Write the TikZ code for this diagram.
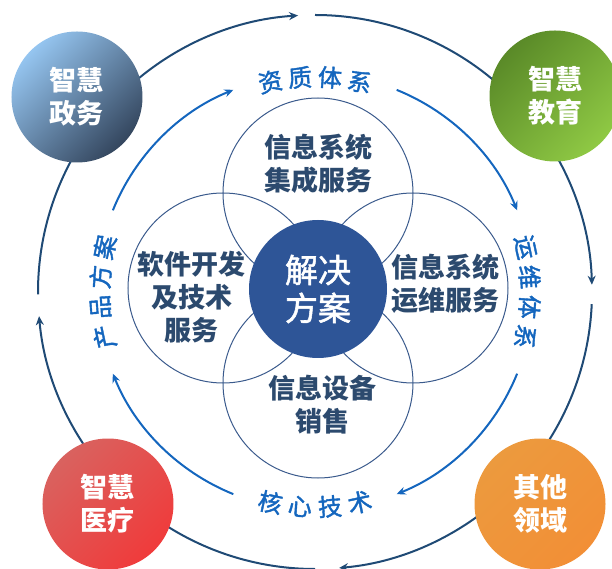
\documentclass[tikz,border=0pt]{standalone}
\usepackage{fontspec}
\setmainfont{Noto Sans CJK SC}
\newfontfamily\cjkmed[FakeBold=1.6]{Noto Sans CJK SC}
\usetikzlibrary{arrows.meta}

\definecolor{outblue}{HTML}{1F4A75}
\definecolor{inblue}{HTML}{1466BE}
\definecolor{petalline}{HTML}{3A5A8C}
\definecolor{petaltext}{HTML}{2C4A6E}
\definecolor{corefill}{HTML}{2E5597}
\definecolor{zwA}{HTML}{95C5F0}
\definecolor{zwB}{HTML}{34465E}
\definecolor{jyA}{HTML}{5A8A28}
\definecolor{jyB}{HTML}{8FC944}
\definecolor{ylA}{HTML}{D9625F}
\definecolor{ylB}{HTML}{F03B3B}
\definecolor{qtA}{HTML}{EC9A3E}
\definecolor{qtB}{HTML}{F28F36}

\tikzset{
  outring/.style={draw=outblue, line width=2pt},
  inring/.style={draw=inblue, line width=2pt},
  ringtxt/.style={text=inblue, font=\fontsize{24}{24}\selectfont\cjkmed, inner sep=0pt},
  petal/.style={circle, draw=petalline, line width=1pt, minimum size=190pt, inner sep=0pt},
  petaltxt/.style={text=petaltext, align=center, font=\fontsize{27}{33}\selectfont\bfseries},
  core/.style={circle, fill=corefill, text=white, minimum size=138pt, inner sep=0pt, align=center, font=\fontsize{33}{38}\selectfont\cjkmed},
  corner/.style={circle, minimum size=131pt, inner sep=0pt, text=white, align=center, font=\fontsize{27}{33}\selectfont\bfseries},
}

\begin{document}
\begin{tikzpicture}[x=1pt, y=1pt]
  \useasboundingbox (-315,-277) rectangle (297,292);

  %outer ring
  \foreach \c/\t/\s in {90/3.5/0, 0/1.5/-2.5, 270/5/0, 180/5/0.5} {
    \coordinate (oa\c) at ({\c+45}:277pt);
    \coordinate (ob\c) at ({\c+\s}:277pt);
    \draw[outring, -{Stealth[length=9pt, width=8pt]}] (oa\c) arc[start angle=\c+45, end angle=\c+\t, radius=277pt];
    \draw[outring] (ob\c) arc[start angle=\c+\s, end angle=\c-45, radius=277pt];
  }

  %inner ring
  \foreach \c in {90, 0, 270, 180} {
    \coordinate (ia\c) at ({\c+68}:218pt);
    \draw[inring, -{Stealth[length=9pt, width=8pt]}] (ia\c) arc[start angle=\c+68, end angle=\c+22, radius=218pt];
  }

  %ring labels
  \foreach \c/\txt in {90/{资,质,体,系}, 0/{运,维,体,系}, 180/{产,品,方,案}} {
    \foreach \ch [count=\i] in \txt {
      \pgfmathsetmacro\ang{\c+12-8*(\i-1)}
      \node[ringtxt, rotate=\ang-90] (lb\c-\i) at (\ang:215pt) {\ch};
    }
  }
  \foreach \ch [count=\i] in {核,心,技,术} {
    \pgfmathsetmacro\ang{258+8*(\i-1)}
    \node[ringtxt, rotate=\ang+90] (lb270-\i) at (\ang:215pt) {\ch};
  }

  %petals
  \node[petal] (jc) at (3,99) {};
  \node[petal] (yw) at (98,4) {};
  \node[petal] (xs) at (3,-91) {};
  \node[petal] (rj) at (-92,4) {};
  \node[petaltxt] (jct) at (3,128) {信息系统\\集成服务};
  \node[petaltxt] (ywt) at (130,8) {信息系统\\运维服务};
  \node[petaltxt] (xst) at (7,-113) {信息设备\\销售};
  \node[petaltxt] (rjt) at (-123,-5) {软件开发\\及技术\\服务};

  %center
  \node[core] (core) at (3,3) {解决\\方案};

  %corners
  \node[corner, top color=zwA, bottom color=zwB, shading angle=45] (zw) at (-238,195) {智慧\\政务};
  \node[corner, top color=jyA, bottom color=jyB, shading angle=45] (jy) at (240,196) {智慧\\教育};
  \node[corner, top color=ylA, bottom color=ylB, shading angle=45] (yl) at (-207,-212) {智慧\\医疗};
  \node[corner, top color=qtA, bottom color=qtB, shading angle=45] (qt) at (225,-212) {其他\\领域};
\end{tikzpicture}
\end{document}
